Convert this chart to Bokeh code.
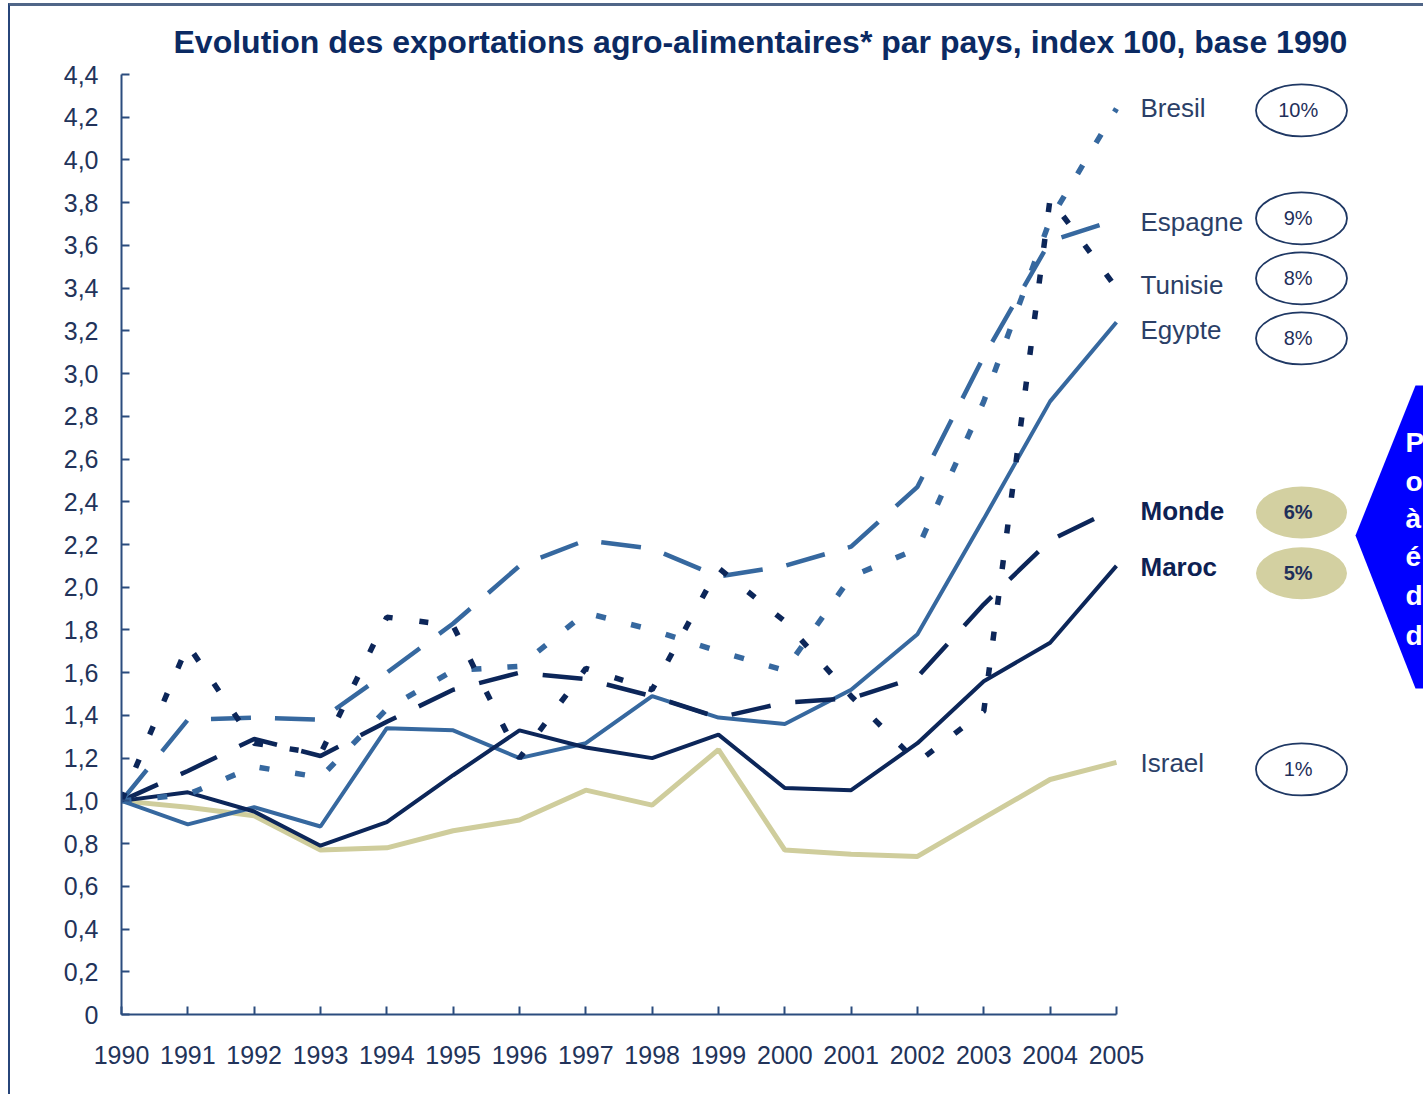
from bokeh.plotting import figure
from bokeh.models import (Range1d, FixedTicker, CustomJSTickFormatter, PolyAnnotation)
from bokeh.core.properties import value
from bokeh.embed import file_html
from bokeh.resources import INLINE

# ---------------- data ----------------
years = list(range(1990, 2006))
bresil  = [1.00, 1.03, 1.16, 1.11, 1.43, 1.61, 1.63, 1.88, 1.80, 1.70, 1.61, 2.05, 2.18, 2.87, 3.72, 4.24]
espagne = [1.00, 1.38, 1.39, 1.38, 1.60, 1.83, 2.10, 2.22, 2.18, 2.05, 2.10, 2.19, 2.47, 3.08, 3.62, 3.72]
tunisie = [1.00, 1.73, 1.27, 1.22, 1.86, 1.82, 1.20, 1.62, 1.52, 2.09, 1.84, 1.49, 1.18, 1.42, 3.82, 3.40]
egypte  = [1.00, 0.89, 0.97, 0.88, 1.34, 1.33, 1.20, 1.27, 1.49, 1.39, 1.36, 1.52, 1.78, 2.32, 2.87, 3.24]
monde   = [1.00, 1.14, 1.29, 1.21, 1.37, 1.52, 1.60, 1.57, 1.49, 1.39, 1.46, 1.48, 1.58, 1.92, 2.22, 2.37]
maroc   = [1.00, 1.04, 0.95, 0.79, 0.90, 1.12, 1.33, 1.25, 1.20, 1.31, 1.06, 1.05, 1.27, 1.56, 1.74, 2.10]
israel  = [1.00, 0.97, 0.93, 0.77, 0.78, 0.86, 0.91, 1.05, 0.98, 1.24, 0.77, 0.75, 0.74, 0.92, 1.10, 1.18]

names   = ["Bresil", "Espagne", "Tunisie", "Egypte", "Monde", "Maroc", "Israel"]
growth  = ["10%", "9%", "8%", "8%", "6%", "5%", "1%"]
y_ticks = [0, 0.2, 0.4, 0.6, 0.8, 1.0, 1.2, 1.4, 1.6, 1.8, 2.0, 2.2, 2.4, 2.6, 2.8,
           3.0, 3.2, 3.4, 3.6, 3.8, 4.0, 4.2, 4.4]
title = "Evolution des exportations agro-alimentaires* par pays, index 100, base 1990"
callout_letters = ["P", "o", "à", "é", "d", "d"]

# ---------------- layout ----------------
FONT = "Liberation Sans"
W, H = 1415, 1091
ML, MR, MT, MB = 111, 0, 63, 83
PX_PER_YEAR = 66.33
PX_PER_UNIT = 940 / 4.4
x_end = 1990 + (W - ML - MR) / PX_PER_YEAR

MID = "#36689F"
NAVY = "#0C2659"
KHAKI = "#CFCD9C"


def px_x(px):
    return 1990 + (px - 121) / PX_PER_YEAR


def px_y(py):
    return (1014 - py) / PX_PER_UNIT


p = figure(width=W, height=H, output_backend="svg", toolbar_location=None,
           x_range=Range1d(1990, x_end), y_range=Range1d(0, 4.4),
           min_border_left=ML, min_border_right=MR, min_border_top=MT, min_border_bottom=MB,
           title=title)
p.margin = (3, 0, 0, 8)
p.styles = {"border-top": "3px solid #506688", "border-left": "2px solid #27457a"}
p.outline_line_color = None
p.xgrid.visible = False
p.ygrid.visible = False
p.background_fill_color = "white"

p.title.text_font = FONT
p.title.text_font_size = "32px"
p.title.text_font_style = "bold"
p.title.text_color = "#0B2A63"
p.title.align = "left"
p.title.offset = 52
p.title.standoff = 30

for ax in (p.xaxis[0], p.yaxis[0]):
    ax.axis_line_color = "#2B4C7E"
    ax.axis_line_width = 2
    ax.major_tick_line_color = "#2B4C7E"
    ax.major_tick_line_width = 2
    ax.major_tick_in = 8
    ax.major_tick_out = 0
    ax.minor_tick_line_color = None
    ax.major_label_text_font = FONT
    ax.major_label_text_font_size = "25px"
    ax.major_label_text_color = "#22335A"

p.xaxis.bounds = (1990, 2005)
p.xaxis.ticker = FixedTicker(ticks=years)
p.xaxis.major_label_standoff = 31
p.yaxis.bounds = (0, 4.4)
p.yaxis.ticker = FixedTicker(ticks=y_ticks)
p.yaxis.formatter = CustomJSTickFormatter(
    code="return Math.abs(tick) < 1e-9 ? '0' : tick.toFixed(1).replace('.', ',');")
p.yaxis.major_label_standoff = 23

# ---------------- lines ----------------
p.line(years, israel, line_color=KHAKI, line_width=5)
p.line(years, egypte, line_color=MID, line_width=4)
p.line(years, maroc, line_color=NAVY, line_width=4)
p.line(years, monde, line_color=NAVY, line_width=4.5, line_dash="40 25")
p.line(years, espagne, line_color=MID, line_width=4.5, line_dash="40 24")
p.line(years, bresil, line_color=MID, line_width=5.5, line_dash="10 26")
p.line(years, tunisie, line_color=NAVY, line_width=5.5, line_dash="9 27")

# ---------------- right-hand labels ----------------
label_x = px_x(1140)
badge_x = px_x(1301)
label_y = [4.242, 3.708, 3.413, 3.202, 2.355, 2.097, 1.175]
badge_y = [4.232, 3.727, 3.446, 3.165, 2.350, 2.065, 1.147]
badge_w = 91 / PX_PER_YEAR
badge_h = 52 / PX_PER_UNIT
bold = [False, False, False, False, True, True, False]

norm_idx = [i for i in range(7) if not bold[i]]
bold_idx = [i for i in range(7) if bold[i]]

p.text(x=[label_x] * len(norm_idx), y=[label_y[i] for i in norm_idx],
       text=[names[i] for i in norm_idx], text_font=value(FONT), text_font_size="26px",
       text_color="#2B3F67", text_baseline="middle", text_align="left")
p.text(x=[label_x] * len(bold_idx), y=[label_y[i] for i in bold_idx],
       text=[names[i] for i in bold_idx], text_font=value(FONT), text_font_size="26px",
       text_font_style="bold", text_color="#0D2153", text_baseline="middle", text_align="left")

p.ellipse(x=[badge_x] * len(norm_idx), y=[badge_y[i] for i in norm_idx],
          width=badge_w, height=badge_h, fill_color="white", line_color="#1F3864", line_width=1.8)
p.ellipse(x=[badge_x] * len(bold_idx), y=[badge_y[i] for i in bold_idx],
          width=badge_w, height=badge_h, fill_color="#D3D0A1", line_color=None)

p.text(x=[badge_x - 0.05] * len(norm_idx), y=[badge_y[i] for i in norm_idx],
       text=[growth[i] for i in norm_idx], text_font=value(FONT), text_font_size="20px",
       text_color="#1F2F5A", text_baseline="middle", text_align="center")
p.text(x=[badge_x - 0.05] * len(bold_idx), y=[badge_y[i] for i in bold_idx],
       text=[growth[i] for i in bold_idx], text_font=value(FONT), text_font_size="20px",
       text_font_style="bold", text_color="#1F2F5A", text_baseline="middle", text_align="center")

# ---------------- blue callout (cut at window edge) ----------------
callout = PolyAnnotation(
    xs=[px_x(1355), px_x(1415), px_x(1440), px_x(1440), px_x(1415)],
    ys=[px_y(535), px_y(385), px_y(385), px_y(688), px_y(688)],
    fill_color="#0000FF", fill_alpha=1.0, line_color=None, level="underlay")
p.add_layout(callout)

letter_y = [px_y(v) for v in (442, 481, 518, 556, 595, 635)]
letters = p.text(x=[px_x(1405)] * len(callout_letters), y=letter_y, text=callout_letters,
                 text_font=value(FONT), text_font_size="28px", text_font_style="bold",
                 text_color="white", text_baseline="middle", text_align="left")
letters.level = "overlay"

open("out.html", "w").write(file_html(p, INLINE))
